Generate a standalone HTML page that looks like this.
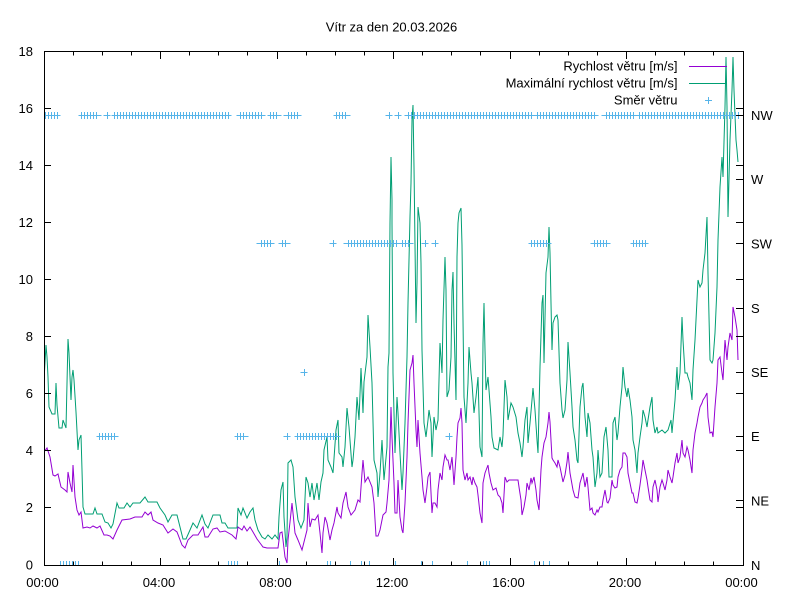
<!DOCTYPE html>
<html>
<head>
<meta charset="utf-8">
<style>
html,body{margin:0;padding:0;background:#fff;}
svg{display:block;}
text{font-family:"Liberation Sans",Arial,sans-serif;font-size:13px;fill:#000;}
</style>
</head>
<body>
<svg width="800" height="600" viewBox="0 0 800 600" xmlns="http://www.w3.org/2000/svg">
<defs>
<pattern id="pv" patternUnits="userSpaceOnUse" x="0" y="0" width="3" height="600">
<rect x="0" y="0" width="1" height="600" fill="#56b4e9"/>
</pattern>
<clipPath id="pc"><rect x="44" y="51" width="700" height="515"/></clipPath>
</defs>
<rect width="800" height="600" fill="#fff"/>

<text x="391.5" y="31.5" text-anchor="middle">Vítr za den 20.03.2026</text>

<!-- series -->
<g clip-path="url(#pc)" fill="none" stroke-width="1">
<polyline stroke="#9400d3" points="44,452 47,448 50,457 53,475 55,476 58,474 61,487 65,490 67,492 68,472 70,483 72,492 73,465 75,497 77,510 79,515 81,512 83,528 87,527 90,528 93,526 97,528 100,526 104,535 107,535 110,536 113,539 117,530 122,520 130,519 135,517 142,517 145,512 148,515 151,512 153,520 158,523 163,525 168,533 173,529 177,532 182,545 185,548 188,540 193,535 198,535 203,527 205,537 208,537 213,529 217,528 220,532 225,531 232,535 236,539 238,527 242,530 244,526 247,531 250,527 253,532 257,539 260,543 263,547 267,548 278,548 280,533 282,532 283,540 285,557 287,563 288,540 290,522 292,503 293,513 295,533 298,540 302,550 305,538 307,530 308,503 310,527 312,519 315,520 318,515 320,533 322,553 323,533 325,517 327,523 330,540 332,530 334,523 337,507 338,513 341,518 343,503 346,492 348,507 351,515 355,510 358,500 360,502 362,473 363,460 365,482 368,477 372,487 374,503 376,536 378,536 380,530 382,520 383,515 386,512 387,503 389,480 391,407 392,437 394,483 395,513 397,513 398,480 400,517 402,530 403,533 405,503 407,457 408,423 410,370 412,363 413,355 414,383 416,430 417,447 418,420 420,453 422,477 423,490 425,503 427,487 428,477 430,472 432,513 433,503 435,503 437,507 438,490 440,473 442,480 443,467 445,455 447,460 448,460 450,470 452,457 453,470 454,485 456,457 457,437 458,423 460,418 461,408 462,423 463,470 465,480 467,473 468,480 470,477 472,485 473,477 475,483 477,487 478,495 480,513 482,523 483,483 485,473 488,465 489,473 491,483 493,490 496,488 498,495 500,497 502,503 503,513 505,477 507,482 509,480 518,480 519,487 521,500 522,515 524,507 526,495 527,483 529,490 531,478 532,483 534,477 536,490 537,500 539,510 541,470 542,457 544,443 546,437 548,423 549,412 550,422 552,458 553,460 555,463 557,467 558,460 560,467 562,477 563,482 565,475 567,462 568,452 570,473 573,490 575,497 578,498 580,483 583,473 585,487 587,477 588,487 590,510 592,508 593,513 595,515 597,510 598,512 600,507 602,507 603,500 605,490 607,502 608,503 610,498 612,480 613,485 615,488 617,487 618,477 620,470 622,467 623,453 625,453 627,457 628,473 630,483 632,493 633,493 635,502 637,503 638,498 640,485 642,470 643,460 645,470 647,480 648,487 650,500 652,502 653,487 655,480 657,490 658,502 660,487 662,480 663,483 665,490 667,480 668,470 670,477 672,483 673,477 675,463 677,453 678,463 680,457 682,440 683,453 685,457 687,447 688,450 690,460 692,473 693,450 695,433 697,423 698,417 700,407 702,403 703,400 705,397 707,393 708,417 710,433 712,432 713,437 715,407 717,383 718,360 720,357 722,373 723,380 725,340 727,360 728,347 730,333 732,340 733,307 735,317 737,330 738,360"/>
<polyline stroke="#009e73" points="44,380 46,345 47,357 48,377 49,407 52,414 55,414 56,383 57,405 59,428 62,428 63,420 66,428 68,339 69,353 71,400 72,377 73,370 74,380 76,412 78,450 79,440 81,435 82,470 83,507 85,514 93,514 95,508 97,514 102,514 105,522 108,523 111,528 113,524 117,503 119,508 124,508 127,503 130,507 133,503 140,503 145,497 148,502 157,502 160,508 165,515 168,522 172,515 177,515 183,539 186,539 190,530 193,523 197,528 202,515 205,524 208,528 213,515 220,515 222,523 225,523 228,528 237,528 238,508 241,515 243,508 247,518 250,512 253,508 255,520 258,530 262,537 265,539 268,535 272,539 275,535 278,539 279,517 281,490 283,482 284,517 286,547 287,537 288,463 291,460 293,467 295,497 298,520 301,528 304,520 306,477 308,483 310,497 312,483 314,500 317,483 319,500 321,482 323,473 324,450 327,437 328,460 331,467 333,473 336,430 338,420 339,453 342,457 343,467 345,447 347,408 349,427 352,467 353,460 355,437 357,397 359,420 361,368 363,413 364,382 367,357 368,315 370,347 372,383 374,460 377,473 378,497 380,473 382,440 384,480 387,447 388,367 389,353 390,223 391,157 392,200 392,223 393,373 395,453 397,397 398,413 400,453 402,490 403,473 405,423 407,357 408,303 410,217 411,183 412,120 413,105 414,167 416,323 417,283 418,207 420,223 421,263 422,350 424,423 426,437 428,420 429,410 431,423 432,457 434,417 436,430 438,420 439,380 440,343 442,373 443,320 445,257 446,290 447,397 449,390 451,357 452,290 453,272 454,323 456,400 457,257 458,223 459,213 461,208 462,245 463,320 464,397 466,423 468,383 469,347 471,373 472,383 474,413 476,397 478,377 480,447 482,457 483,343 484,303 485,350 486,390 488,377 489,390 491,417 492,437 494,448 498,450 500,437 502,447 503,435 505,380 507,397 508,420 511,403 513,407 516,417 518,433 520,443 522,457 523,447 525,420 527,407 528,443 530,423 532,400 533,388 535,410 537,440 538,453 540,367 542,303 543,295 544,363 546,273 548,257 549,227 550,253 551,303 552,350 553,323 555,317 557,315 558,320 560,383 562,410 563,418 565,410 567,380 568,342 570,373 572,407 573,427 575,440 577,460 578,463 580,407 582,387 583,383 585,417 587,437 588,413 590,423 592,450 593,457 595,487 597,473 598,450 600,477 602,473 604,437 606,427 608,450 609,477 612,477 613,423 615,417 617,440 618,433 620,407 622,387 623,367 625,387 627,397 628,388 630,400 632,417 633,440 635,450 637,473 638,453 640,437 642,423 643,410 645,417 647,427 648,420 650,407 652,397 653,420 655,433 657,427 658,433 662,430 665,433 668,430 671,420 672,433 675,400 677,367 678,390 680,373 682,317 683,340 685,373 687,373 688,377 690,383 692,400 693,370 695,340 697,300 698,280 700,287 702,283 703,270 705,253 707,217 708,273 710,360 712,363 713,360 715,333 717,287 718,240 720,187 722,157 723,177 725,107 726,57 727,107 728,217 730,140 732,90 733,57 734,90 736,140 737,150 738,162"/>
</g>

<!-- direction markers -->
<g clip-path="url(#pc)">
<g fill="url(#pv)">
<rect x="44" y="112" width="14" height="7"/>
<rect x="81" y="112" width="18" height="7"/>
<rect x="114" y="112" width="115" height="7"/>
<rect x="239" y="112" width="24" height="7"/>
<rect x="270" y="112" width="9" height="7"/>
<rect x="286" y="112" width="13" height="7"/>
<rect x="336" y="112" width="12" height="7"/>
<rect x="407" y="112" width="126" height="7"/>
<rect x="536" y="112" width="60" height="7"/>
<rect x="604" y="112" width="32" height="7"/>
<rect x="639" y="112" width="100" height="7"/>
<rect x="259" y="240" width="13" height="7"/>
<rect x="281" y="240" width="7" height="7"/>
<rect x="346" y="240" width="51" height="7"/>
<rect x="401" y="240" width="10" height="7"/>
<rect x="531" y="240" width="18" height="7"/>
<rect x="593" y="240" width="15" height="7"/>
<rect x="633" y="240" width="13" height="7"/>
<rect x="99" y="433" width="17" height="7"/>
<rect x="237" y="433" width="9" height="7"/>
<rect x="297" y="433" width="41" height="7"/>
<rect x="59" y="561" width="22" height="4"/>
<rect x="227" y="561" width="11" height="4"/>
<rect x="326" y="561" width="6" height="4"/>
<rect x="482" y="561" width="10" height="4"/>
</g>
<path fill="none" stroke="#56b4e9" stroke-width="1" d="
M41.5 115.5H60.5 M78.5 115.5H101.5 M103.5 115.5H110.5 M111.5 115.5H231.5 M236.5 115.5H265.5 M267.5 115.5H281.5 M283.5 115.5H301.5 M333.5 115.5H350.5 M385.5 115.5H392.5 M394.5 115.5H401.5 M404.5 115.5H598.5 M601.5 115.5H741.5
M107.5 112v7 M389.5 112v7 M398.5 112v7
M256.5 243.5H274.5 M278.5 243.5H290.5 M329.5 243.5H336.5 M343.5 243.5H413.5 M421.5 243.5H428.5 M431.5 243.5H438.5 M528.5 243.5H551.5 M590.5 243.5H610.5 M630.5 243.5H648.5
M333.5 240v7 M425.5 240v7 M435.5 240v7
M96.5 436.5H118.5 M234.5 436.5H248.5 M283.5 436.5H290.5 M294.5 436.5H340.5 M445.5 436.5H452.5
M287.5 433v7 M449.5 433v7
M300.5 372.5H307.5 M304.5 369v7
M279.5 561v4 M350.5 561v4 M361.5 561v4 M369.5 561v4 M395.5 561v4 M421.5 561v4 M432.5 561v4 M467.5 561v4 M534.5 561v4 M543.5 561v4 M549.5 561v4
"/>
</g>

<!-- axes border -->
<rect x="44.5" y="51.5" width="699" height="514" fill="none" stroke="#000" stroke-width="1"/>

<!-- ticks -->
<path fill="none" stroke="#000" stroke-width="1" d="
M44 507.5H51 M44 450.5H51 M44 393.5H51 M44 336.5H51 M44 279.5H51 M44 222.5H51 M44 165.5H51 M44 108.5H51
M743 507.5H736 M743 450.5H736 M743 393.5H736 M743 336.5H736 M743 279.5H736 M743 222.5H736 M743 165.5H736 M743 108.5H736
M743 500.5H736 M743 436.5H736 M743 372.5H736 M743 308.5H736 M743 243.5H736 M743 179.5H736 M743 115.5H736
M160.5 565V558 M277.5 565V558 M393.5 565V558 M510.5 565V558 M626.5 565V558
M160.5 52V59 M277.5 52V59 M393.5 52V59 M510.5 52V59 M626.5 52V59
M73.5 565V561.5 M102.5 565V561.5 M131.5 565V561.5 M189.5 565V561.5 M218.5 565V561.5 M247.5 565V561.5 M306.5 565V561.5 M335.5 565V561.5 M364.5 565V561.5 M422.5 565V561.5 M451.5 565V561.5 M480.5 565V561.5 M539.5 565V561.5 M568.5 565V561.5 M597.5 565V561.5 M655.5 565V561.5 M684.5 565V561.5 M713.5 565V561.5
M73.5 52V55.5 M102.5 52V55.5 M131.5 52V55.5 M189.5 52V55.5 M218.5 52V55.5 M247.5 52V55.5 M306.5 52V55.5 M335.5 52V55.5 M364.5 52V55.5 M422.5 52V55.5 M451.5 52V55.5 M480.5 52V55.5 M539.5 52V55.5 M568.5 52V55.5 M597.5 52V55.5 M655.5 52V55.5 M684.5 52V55.5 M713.5 52V55.5
"/>

<!-- y1 labels -->
<g text-anchor="end">
<text x="33" y="569.5">0</text>
<text x="33" y="512">2</text>
<text x="33" y="455">4</text>
<text x="33" y="398">6</text>
<text x="33" y="341">8</text>
<text x="33" y="284">10</text>
<text x="33" y="227">12</text>
<text x="33" y="170">14</text>
<text x="33" y="113">16</text>
<text x="33" y="56">18</text>
</g>

<!-- y2 labels -->
<g text-anchor="start">
<text x="751" y="570">N</text>
<text x="751" y="505.5">NE</text>
<text x="751" y="441">E</text>
<text x="751" y="377">SE</text>
<text x="751" y="313">S</text>
<text x="751" y="248.5">SW</text>
<text x="751" y="184">W</text>
<text x="751" y="120">NW</text>
</g>

<!-- x labels -->
<g text-anchor="middle">
<text x="42.5" y="587">00:00</text>
<text x="159" y="587">04:00</text>
<text x="275.5" y="587">08:00</text>
<text x="392" y="587">12:00</text>
<text x="508.5" y="587">16:00</text>
<text x="625" y="587">20:00</text>
<text x="741.5" y="587">00:00</text>
</g>

<!-- legend -->
<g text-anchor="end">
<text x="677.5" y="70.5">Rychlost větru [m/s]</text>
<text x="677.5" y="87.5">Maximální rychlost větru [m/s]</text>
<text x="677.5" y="104.5">Směr větru</text>
</g>
<path d="M689 66.5H727" stroke="#9400d3" stroke-width="1" fill="none"/>
<path d="M689 83.5H727" stroke="#009e73" stroke-width="1" fill="none"/>
<path d="M705 100.5H712 M708.5 97v7" stroke="#56b4e9" stroke-width="1" fill="none"/>
</svg>
</body>
</html>
